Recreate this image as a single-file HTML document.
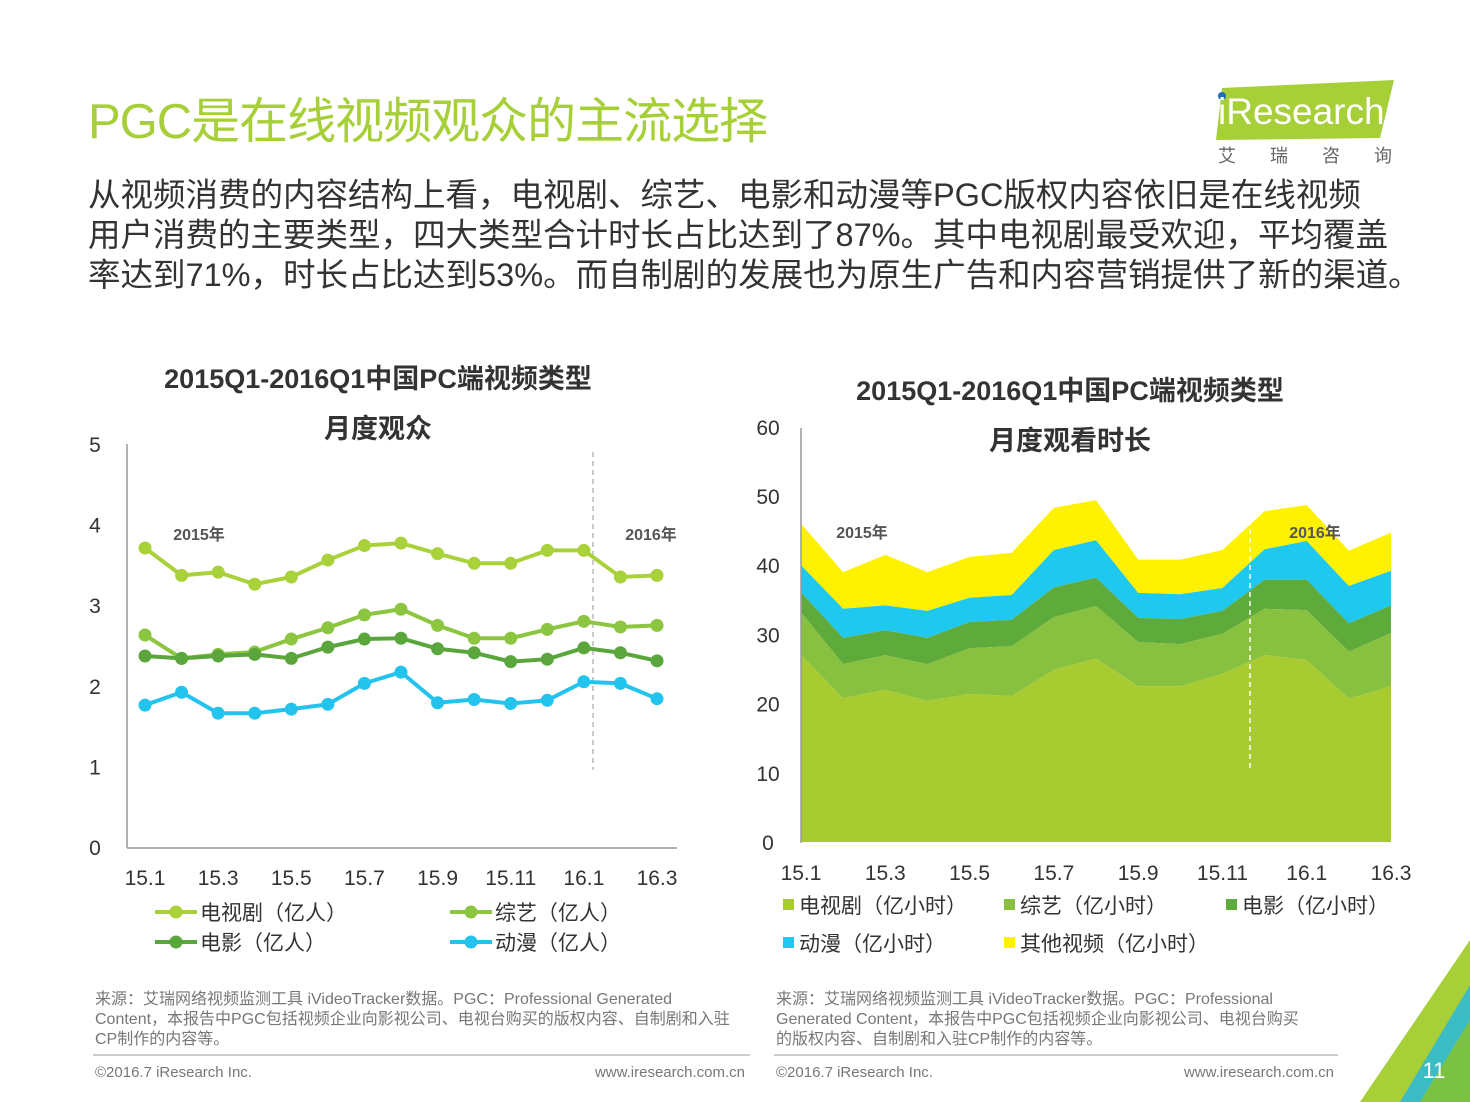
<!DOCTYPE html>
<html><head><meta charset="utf-8">
<style>
body{margin:0;width:1470px;height:1102px;background:#fff;position:relative;overflow:hidden;font-family:"Liberation Sans","Noto Sans CJK SC",sans-serif;}
.abs{position:absolute;}
</style></head>
<body>
<div class="abs" style="left:88px;top:82px;font-size:49px;color:#a6cf38;letter-spacing:-1px;">PGC是在线视频观众的主流选择</div>
<div class="abs" style="left:1212px;top:78px;width:190px;height:90px;">
<svg width="190" height="90"><polygon points="10,10 182,2 168,60 4,62" fill="#a6cf38"/><circle cx="10" cy="18" r="4" fill="#1e6eb4"/><text x="6" y="46" font-family="Liberation Sans" font-size="37" fill="#fff">iResearch</text><text x="6" y="84" font-family="Noto Sans CJK SC" font-size="18" fill="#666" letter-spacing="34">艾瑞咨询</text></svg></div>
<div class="abs" style="left:88px;top:175px;width:1380px;font-size:32.5px;line-height:40px;color:#333;white-space:nowrap;">从视频消费的内容结构上看，电视剧、综艺、电影和动漫等PGC版权内容依旧是在线视频<br>用户消费的主要类型，四大类型合计时长占比达到了87%。其中电视剧最受欢迎，平均覆盖<br>率达到71%，时长占比达到53%。而自制剧的发展也为原生广告和内容营销提供了新的渠道。</div>

<svg class="abs" style="left:0;top:0" width="1470" height="1102" id="svg">
<polygon points="1470,940 1470,1102 1360,1102" fill="#a6cf38"/>
<polygon points="1470,985 1470,1102 1400,1102" fill="#22b8e8" opacity="0.8"/>
<polygon points="1470,1020 1470,1102 1420,1102" fill="#7cc242"/>
<text x="1434" y="1078" font-size="22" fill="#fff" text-anchor="middle" font-family="Liberation Sans">11</text>
</svg>

<script>
// Left chart data (亿人)
const catsL=["15.1","15.2","15.3","15.4","15.5","15.6","15.7","15.8","15.9","15.10","15.11","15.12","16.1","16.2","16.3"];
const xTickLabels=["15.1","15.3","15.5","15.7","15.9","15.11","16.1","16.3"];
const tvL=[3.71,3.37,3.41,3.26,3.35,3.56,3.74,3.77,3.64,3.52,3.52,3.68,3.68,3.35,3.37];
const varietyL=[2.63,2.34,2.39,2.42,2.58,2.72,2.88,2.95,2.75,2.59,2.59,2.70,2.80,2.73,2.75];
const movieL=[2.37,2.34,2.37,2.39,2.34,2.48,2.58,2.59,2.46,2.41,2.30,2.33,2.47,2.41,2.31];
const animeL=[1.76,1.92,1.66,1.66,1.71,1.77,2.03,2.17,1.79,1.83,1.78,1.82,2.05,2.03,1.84];
const yTicksL=[0,1,2,3,4,5];
// Right chart data (亿小时)
const tvR=[27.0,20.8,22.0,20.4,21.4,21.1,24.9,26.5,22.5,22.5,24.3,27.0,26.3,20.7,22.5];
const varietyR=[6.2,4.9,5.0,5.3,6.6,7.2,7.6,7.6,6.4,6.1,5.8,6.7,7.2,6.8,7.7];
const movieR=[2.9,3.8,3.6,3.8,3.8,3.8,4.3,4.1,3.5,3.6,3.3,4.2,4.4,4.1,4.0];
const animeR=[3.9,4.2,3.6,3.9,3.5,3.6,5.4,5.4,3.6,3.6,3.3,4.4,5.6,5.4,5.0];
const otherR=[6.0,5.3,7.3,5.6,5.9,6.1,6.1,5.8,4.8,5.0,5.5,5.5,5.2,5.1,5.5];
const yTicksR=[0,10,20,30,40,50,60];

const svg=document.getElementById('svg');
const NS='http://www.w3.org/2000/svg';
function mk(tag,attrs,txt){const e=document.createElementNS(NS,tag);for(const k in attrs)e.setAttribute(k,attrs[k]);if(txt!==undefined)e.textContent=txt;svg.appendChild(e);return e;}
const F='Liberation Sans, Noto Sans CJK SC, sans-serif';

// ---- Left chart ----
const xL=i=>145+i*(512/(catsL.length-1));
const yL=v=>847-v*80.6;
let t;
t=mk('text',{x:378,y:388,'font-size':27,'font-weight':'bold',fill:'#333','text-anchor':'middle','font-family':F},'2015Q1-2016Q1中国PC端视频类型');

mk('text',{x:378,y:438,'font-size':27,'font-weight':'bold',fill:'#333','text-anchor':'middle','font-family':F},'月度观众');
let ax=mk('line',{x1:127,y1:444,x2:127,y2:848,stroke:'#999','stroke-width':1.5});

mk('line',{x1:127,y1:848,x2:677,y2:848,stroke:'#999','stroke-width':1.5});
yTicksL.forEach(v=>{const e=mk('text',{x:95,y:yL(v)+8,'font-size':21,fill:'#333','text-anchor':'middle','font-family':F},String(v));
});
xTickLabels.forEach(l=>{const i=catsL.indexOf(l);const e=mk('text',{x:xL(i),y:885,'font-size':21,fill:'#333','text-anchor':'middle','font-family':F},l);
});
mk('line',{x1:593,y1:452,x2:593,y2:770,stroke:'#bbb','stroke-width':1.5,'stroke-dasharray':'5,4'});
mk('text',{x:199,y:540,'font-size':16,'font-weight':'bold',fill:'#555','text-anchor':'middle','font-family':F},'2015年');
mk('text',{x:651,y:540,'font-size':16,'font-weight':'bold',fill:'#555','text-anchor':'middle','font-family':F},'2016年');
const seriesL=[[tvL,'#a9d13a','tv'],[varietyL,'#8cc540','variety'],[movieL,'#5aa63c','movie'],[animeL,'#22c4ee','anime']];
seriesL.forEach(([d,c,n])=>{
 const p=mk('polyline',{points:d.map((v,i)=>xL(i)+','+yL(v)).join(' '),fill:'none',stroke:c,'stroke-width':4});
 
 d.forEach((v,i)=>{const m=mk('circle',{cx:xL(i),cy:yL(v),r:6.5,fill:c});
 });
});
const legL=[['电视剧（亿人）','#a9d13a',155,912],['综艺（亿人）','#8cc540',450,912],['电影（亿人）','#5aa63c',155,942],['动漫（亿人）','#22c4ee',450,942]];
legL.forEach(([l,c,x,y])=>{mk('line',{x1:x,y1:y,x2:x+42,y2:y,stroke:c,'stroke-width':4});mk('circle',{cx:x+21,cy:y,r:6.5,fill:c});
const e=mk('text',{x:x+45,y:y+8,'font-size':21,fill:'#333','font-family':F},l);});

// ---- Right chart ----
const xR=i=>801+i*(590/(tvR.length-1));
const yR=v=>842-v*6.92;
mk('text',{x:1070,y:400,'font-size':27,'font-weight':'bold',fill:'#333','text-anchor':'middle','font-family':F},'2015Q1-2016Q1中国PC端视频类型');
mk('text',{x:1070,y:450,'font-size':27,'font-weight':'bold',fill:'#333','text-anchor':'middle','font-family':F},'月度观看时长');
yTicksR.forEach(v=>{const e=mk('text',{x:768,y:yR(v)+8,'font-size':21,fill:'#333','text-anchor':'middle','font-family':F},String(v));
});
xTickLabels.forEach(l=>{const i=catsL.indexOf(l);const e=mk('text',{x:xR(i),y:880,'font-size':21,fill:'#333','text-anchor':'middle','font-family':F},l);
});
const seriesR=[[tvR,'#a8cb32','tv'],[varietyR,'#87c13f','variety'],[movieR,'#5eaa3b','movie'],[animeR,'#1fc8ef','anime'],[otherR,'#fff200','other']];
let base=tvR.map(()=>0);
const layers=[];
seriesR.forEach(([d,c,n])=>{const top=base.map((b,i)=>b+d[i]);layers.push([base,top,c,n]);base=top;});
layers.reverse().forEach(([b,tp,c,n])=>{
 const pts=tp.map((v,i)=>xR(i)+','+yR(v)).concat(b.map((v,i)=>xR(i)+','+yR(v)).reverse());
 const p=mk('polygon',{points:pts.join(' '),fill:c});
 
});
mk('line',{x1:801,y1:428,x2:801,y2:843,stroke:'#999','stroke-width':1.5});
mk('line',{x1:1250,y1:520,x2:1250,y2:768,stroke:'#fff','stroke-width':1.5,'stroke-dasharray':'5,4'});
mk('text',{x:862,y:538,'font-size':16,'font-weight':'bold',fill:'#555','text-anchor':'middle','font-family':F},'2015年');
mk('text',{x:1315,y:538,'font-size':16,'font-weight':'bold',fill:'#555','text-anchor':'middle','font-family':F},'2016年');
const legR=[['电视剧（亿小时）','#a8cb32',783,905],['综艺（亿小时）','#87c13f',1004,905],['电影（亿小时）','#5eaa3b',1226,905],['动漫（亿小时）','#1fc8ef',783,943],['其他视频（亿小时）','#fff200',1004,943]];
legR.forEach(([l,c,x,y])=>{mk('rect',{x:x,y:y-6,width:11,height:11,fill:c});
const e=mk('text',{x:x+16,y:y+8,'font-size':21,fill:'#333','font-family':F},l);});

// footers
const src1=['来源：艾瑞网络视频监测工具 iVideoTracker数据。PGC：Professional  Generated','Content，本报告中PGC包括视频企业向影视公司、电视台购买的版权内容、自制剧和入驻','CP制作的内容等。'];
const src2=['来源：艾瑞网络视频监测工具 iVideoTracker数据。PGC：Professional','Generated  Content，本报告中PGC包括视频企业向影视公司、电视台购买','的版权内容、自制剧和入驻CP制作的内容等。'];
src1.forEach((l,i)=>mk('text',{x:95,y:1004+i*20,'font-size':16,fill:'#777','font-family':F},l));
src2.forEach((l,i)=>mk('text',{x:776,y:1004+i*20,'font-size':16,fill:'#777','font-family':F},l));
mk('line',{x1:93,y1:1055,x2:750,y2:1055,stroke:'#999'});
mk('line',{x1:774,y1:1055,x2:1338,y2:1055,stroke:'#999'});
mk('text',{x:95,y:1077,'font-size':15,fill:'#777','font-family':F},'©2016.7 iResearch Inc.');
mk('text',{x:745,y:1077,'font-size':15,fill:'#777','text-anchor':'end','font-family':F},'www.iresearch.com.cn');
mk('text',{x:776,y:1077,'font-size':15,fill:'#777','font-family':F},'©2016.7 iResearch Inc.');
mk('text',{x:1334,y:1077,'font-size':15,fill:'#777','text-anchor':'end','font-family':F},'www.iresearch.com.cn');
</script>
</body></html>
